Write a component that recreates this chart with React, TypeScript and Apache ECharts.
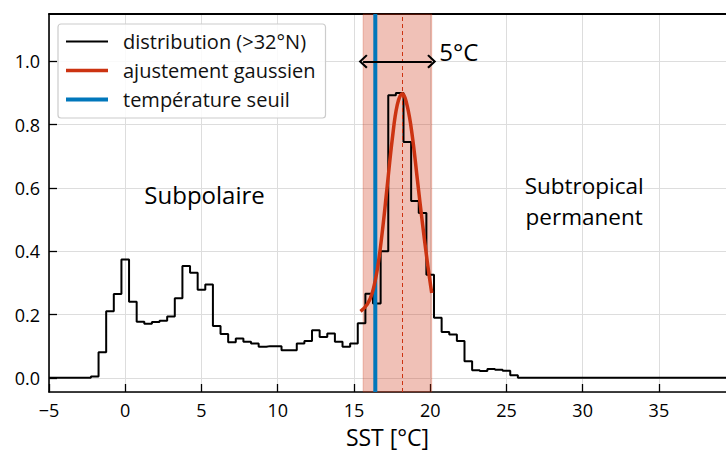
import React, { useEffect, useRef } from 'react';
import * as echarts from 'echarts';

// Histogram bin centres (°C, 0.5 °C bins) and normalised counts
const binCenters = [
  -2.5, -2.0, -1.5, -1.0, -0.5, 0.0, 0.5, 1.0, 1.5, 2.0, 2.5, 3.0, 3.5, 4.0, 4.5,
  5.0, 5.5, 6.0, 6.5, 7.0, 7.5, 8.0, 8.5, 9.0, 9.5, 10.0, 10.5, 11.0, 11.5, 12.0,
  12.5, 13.0, 13.5, 14.0, 14.5, 15.0, 15.5, 16.0, 16.5, 17.0, 17.5, 18.0, 18.5,
  19.0, 19.5, 20.0, 20.5, 21.0, 21.5, 22.0, 22.5, 23.0, 23.5, 24.0, 24.5, 25.0,
  25.5, 26.0,
];
const binValues = [
  0, 0.004, 0.081, 0.21, 0.265, 0.374, 0.24, 0.177, 0.171, 0.176, 0.18, 0.194, 0.251, 0.353, 0.332,
  0.278, 0.295, 0.164, 0.138, 0.112, 0.124, 0.114, 0.108, 0.098, 0.1, 0.1, 0.087, 0.087, 0.108, 0.116,
  0.15, 0.129, 0.14, 0.114, 0.098, 0.108, 0.172, 0.266, 0.235, 0.4, 0.893, 0.9, 0.745,
  0.559, 0.521, 0.326, 0.19, 0.145, 0.137, 0.116, 0.052, 0.024, 0.021, 0.028, 0.025, 0.022,
  0.008, 0,
];

// Gaussian fit
const gaussX = [15.43, 15.87, 16.2, 16.53, 16.85, 17.18, 17.51, 17.84, 18.17, 18.5, 18.83, 19.16, 19.49, 19.82, 20.1];
const gaussY = [0.21, 0.232, 0.268, 0.342, 0.458, 0.605, 0.753, 0.863, 0.898, 0.858, 0.763, 0.626, 0.489, 0.363, 0.268];

const xRange = [-5, 39.4];
const yRange = [-0.045, 1.15];
const thresholdT = 16.4;
const meanT = 18.15;
const band = [15.6, 20.1];
const arrowY = 1.0;

const seriesNames = ['distribution (>32°N)', 'ajustement gaussien', 'température seuil'];
const annotations = [
  { text: 'Subpolaire', x: 5.2, y: 0.58, size: 24 },
  { text: 'Subtropical', x: 30.1, y: 0.607, size: 22.5 },
  { text: 'permanent', x: 30.1, y: 0.51, size: 22.5 },
];
const widthLabel = { text: '5°C', x: 20.6, y: 1.03 };

const FONT = 'Open Sans';

export default function App() {
  const ref = useRef<HTMLDivElement>(null);
  useEffect(() => {
    if (!ref.current) return;
    const chart = echarts.init(ref.current, undefined, { renderer: 'svg' });

    const histData = [[xRange[0], 0], ...binCenters.map((c, i) => [c, binValues[i]]), [xRange[1], 0]];
    const gaussData = gaussX.map((x, i) => [x, gaussY[i]]);

    const chevron = 'path://M0,10 L10,0 L20,10 L18,12 L10,4 L2,12 Z';

    const option: any = {
      animation: false,
      textStyle: { fontFamily: FONT, color: '#000' },
      grid: { left: 49, right: 0, top: 14, bottom: 60, containLabel: false, outerBoundsMode: 'none' },
      legend: {
        data: [
          { name: seriesNames[0], icon: 'path://M0,0 H42 V2 H0 Z' },
          { name: seriesNames[1], icon: 'path://M0,0 H42 V3.6 H0 Z' },
          { name: seriesNames[2], icon: 'path://M0,0 H42 V4 H0 Z' },
        ],
        orient: 'vertical',
        left: 58,
        top: 24,
        padding: [7, 10, 8, 8],
        itemGap: 8,
        itemWidth: 42,
        itemHeight: 14,
        symbolKeepAspect: true,
        backgroundColor: 'rgba(255,255,255,0.85)',
        borderColor: '#cccccc',
        borderWidth: 1.2,
        borderRadius: 3,
        textStyle: { fontFamily: FONT, fontSize: 20, color: '#111', lineHeight: 21, padding: [0, 0, 0, 10] },
      },
      xAxis: [
        {
          type: 'value',
          min: xRange[0],
          max: xRange[1],
          interval: 5,
          axisLine: { show: true, onZero: false, lineStyle: { color: '#000', width: 1.6 } },
          axisTick: { show: true, inside: true, length: 8, lineStyle: { color: '#000', width: 1.3 } },
          axisLabel: {
            color: '#000', fontSize: 18, fontFamily: FONT, margin: 9, showMaxLabel: false,
            formatter: (v: number) => (v < 0 ? '\u2212' + Math.abs(v) : String(v)),
          },
          splitLine: { show: true, lineStyle: { color: '#dddddd', width: 1 } },
          name: 'SST [°C]',
          nameLocation: 'middle',
          nameGap: 33,
          nameTextStyle: { fontSize: 23, lineHeight: 23, color: '#000', fontFamily: FONT },
        },
        {
          type: 'value',
          position: 'top',
          min: xRange[0],
          max: xRange[1],
          axisLine: { show: true, onZero: false, lineStyle: { color: '#000', width: 1.8 } },
          axisTick: { show: false },
          axisLabel: { show: false },
          splitLine: { show: false },
        },
      ],
      yAxis: {
        type: 'value',
        min: yRange[0],
        max: yRange[1],
        minInterval: 0.2,
        maxInterval: 0.2,
        axisLine: { show: true, onZero: false, lineStyle: { color: '#000', width: 1.6 } },
        axisTick: { show: true, inside: true, length: 8, lineStyle: { color: '#000', width: 1.3 } },
        axisLabel: {
          color: '#000', fontSize: 18, fontFamily: FONT, margin: 9,
          showMinLabel: false, showMaxLabel: false,
          formatter: (v: number) => (Math.abs(v) < 1e-9 ? '0.0' : v.toFixed(1)),
        },
        splitLine: { show: true, lineStyle: { color: '#dddddd', width: 1 } },
      },
      series: [
        {
          name: 'band',
          type: 'line',
          data: [],
          z: 1,
          silent: true,
          markArea: {
            silent: true,
            itemStyle: { color: 'rgba(204,51,17,0.3)', borderColor: 'rgba(204,51,17,0.25)', borderWidth: 1 },
            data: [[{ xAxis: band[0] }, { xAxis: band[1] }]],
          },
          markLine: {
            silent: true,
            animation: false,
            symbol: 'none',
            data: [{ xAxis: meanT }],
            lineStyle: { color: '#cc3311', width: 1, type: [4, 3] },
            label: { show: false },
          },
          markPoint: {
            silent: true,
            symbol: 'circle',
            symbolSize: 0,
            data: [
              ...annotations.map((a) => ({
                coord: [a.x, a.y],
                label: { show: true, formatter: a.text, position: 'inside', align: 'center', lineHeight: a.size, color: '#000', fontSize: a.size, fontFamily: FONT },
              })),
              {
                coord: [widthLabel.x, widthLabel.y],
                label: { show: true, formatter: widthLabel.text, position: 'right', distance: 0, color: '#000', fontSize: 24, fontFamily: FONT },
              },
            ],
          },
        },
        {
          name: 'arrow',
          type: 'line',
          data: [],
          z: 6,
          silent: true,
          markLine: {
            silent: true,
            animation: false,
            symbol: [chevron, chevron],
            symbolSize: [14, 9],
            data: [[{ coord: [band[0], arrowY] }, { coord: [band[1], arrowY] }]],
            lineStyle: { color: '#000', width: 2, type: 'solid' },
            itemStyle: { color: '#000' },
            label: { show: false },
          },
        },
        {
          name: seriesNames[0],
          type: 'line',
          step: 'middle',
          data: histData,
          symbol: 'none',
          z: 3,
          lineStyle: { color: '#000', width: 2 },
          itemStyle: { color: '#000' },
        },
        {
          name: seriesNames[2],
          type: 'line',
          data: [[thresholdT, yRange[0]], [thresholdT, yRange[1]]],
          symbol: 'none',
          z: 4,
          lineStyle: { color: '#0077bb', width: 4 },
          itemStyle: { color: '#0077bb' },
        },
        {
          name: seriesNames[1],
          type: 'line',
          smooth: 0.4,
          data: gaussData,
          symbol: 'none',
          z: 5,
          lineStyle: { color: '#cc3311', width: 3.5 },
          itemStyle: { color: '#cc3311' },
        },
      ],
    };
    chart.setOption(option);
    return () => chart.dispose();
  }, []);
  return (
    <div
      ref={ref}
      style={{ position: 'fixed', left: 0, top: 0, width: 726, height: 452, background: '#fff' }}
    />
  );
}
